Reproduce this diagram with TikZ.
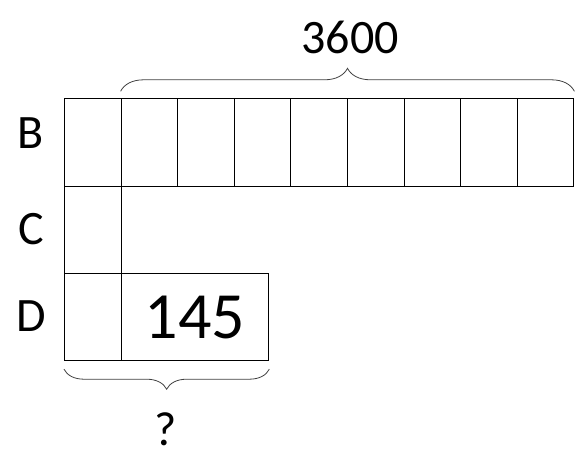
\documentclass[tikz,border=0pt]{standalone}
\usepackage{fontspec}
\setmainfont{Carlito}
\usetikzlibrary{decorations.pathreplacing}
\tikzset{
  cell/.style={draw, line width=1pt, minimum width=56.6pt, minimum height=87.3pt, inner sep=0pt, anchor=north west},
  bracket/.style={decorate, decoration={brace, amplitude=#1}, draw=black!75, line width=0.8pt},
  bigtext/.style={anchor=center, font=\fontsize{48}{48}\selectfont}
}
\begin{document}
\begin{tikzpicture}[x=1pt, y=-1pt]
  \useasboundingbox (0,0) rectangle (585,458);
  \foreach \i in {0,...,8}
    \node[cell] at ({64+56.6*\i},98.3) (b\i) {};
  \node[cell] at (64,185.6) (c0) {};
  \node[cell] at (64,272.9) (d0) {};
  \node[cell, minimum width=147.7pt, font=\fontsize{66}{66}\selectfont] at (120.6,272.9) (dbox) {\raisebox{-5pt}{145}};
  \node[bigtext] at (31,133) (rowb) {B};
  \node[bigtext] at (31,229) (rowc) {C};
  \node[bigtext] at (31,316) (rowd) {D};
  \draw[bracket=23pt] ([yshift=7pt]b1.north west) -- ([yshift=7pt]b8.north east);
  \draw[bracket=20pt] ([yshift=-8pt]dbox.south east) -- ([yshift=-8pt]d0.south west);
  \node[bigtext] at (350,37) (total) {3600};
  \node[bigtext] at (166,429) (unknown) {?};
\end{tikzpicture}
\end{document}
